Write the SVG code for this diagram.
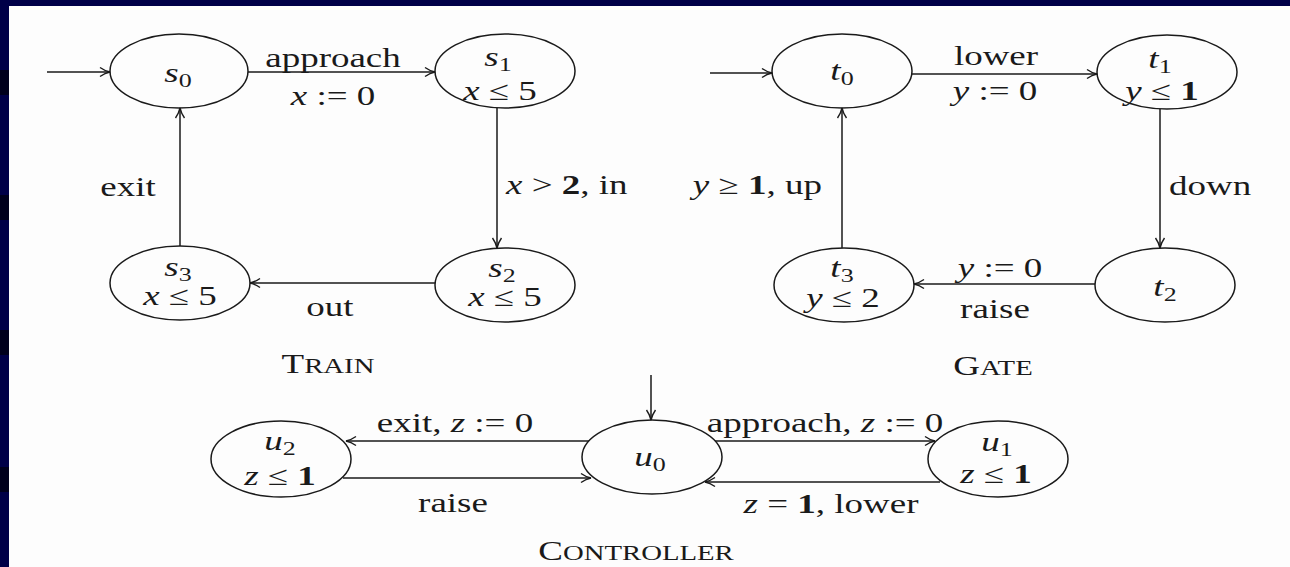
<svg xmlns="http://www.w3.org/2000/svg" width="1290" height="567" viewBox="0 0 1290 567">
<style>
.bg{fill:#fdfdfd}
.navy{fill:#000048}
.dark{fill:#00001c}
.st{fill:none;stroke:#1a1a1a;stroke-width:1.5}
.e{fill:none;stroke:#1a1a1a;stroke-width:1.5}
.t{font-family:"Liberation Serif","Times New Roman",serif;font-size:27px;fill:#1a1a1a;text-anchor:middle}
.s{text-anchor:start}
.en{text-anchor:end}
.i{font-style:italic}
.b{font-weight:bold}
.sub{font-size:19px}
.sc{font-size:21px}
</style>
<defs>
<marker id="ah" markerUnits="userSpaceOnUse" markerWidth="14" markerHeight="12" viewBox="-2 -6 14 12" refX="10" refY="0" orient="auto">
<path d="M0,-4.5 Q5,-1 10,0 Q5,1 0,4.5" fill="none" stroke="#1a1a1a" stroke-width="1.4"/>
</marker>
</defs>
<rect class="bg" x="0" y="0" width="1290" height="567"/>
<rect class="navy" x="0" y="0" width="1290" height="6"/>
<rect class="navy" x="0" y="0" width="9" height="567"/>
<rect class="dark" x="0" y="70" width="9" height="25"/>
<rect class="dark" x="0" y="195" width="9" height="25"/>
<rect class="dark" x="0" y="330" width="9" height="25"/>
<rect class="dark" x="0" y="467" width="9" height="25"/>

<g id="connectors">
<line class="e" x1="47" y1="72" x2="110" y2="72" marker-end="url(#ah)"/>
<line class="e" x1="248" y1="72" x2="435" y2="72" marker-end="url(#ah)"/>
<line class="e" x1="497" y1="108" x2="497" y2="248" marker-end="url(#ah)"/>
<line class="e" x1="435" y1="283" x2="250" y2="283" marker-end="url(#ah)"/>
<line class="e" x1="180" y1="246" x2="180" y2="108" marker-end="url(#ah)"/>
<line class="e" x1="710" y1="73" x2="772" y2="73" marker-end="url(#ah)"/>
<line class="e" x1="912" y1="74" x2="1097" y2="74" marker-end="url(#ah)"/>
<line class="e" x1="1160" y1="109" x2="1160" y2="248" marker-end="url(#ah)"/>
<line class="e" x1="1095" y1="284" x2="914" y2="284" marker-end="url(#ah)"/>
<line class="e" x1="842" y1="248" x2="842" y2="108" marker-end="url(#ah)"/>
<line class="e" x1="651" y1="375" x2="651" y2="420" marker-end="url(#ah)"/>
<line class="e" x1="589" y1="441" x2="346" y2="441" marker-end="url(#ah)"/>
<line class="e" x1="343" y1="478" x2="591" y2="478" marker-end="url(#ah)"/>
<line class="e" x1="715" y1="441" x2="935" y2="441" marker-end="url(#ah)"/>
<line class="e" x1="940" y1="482" x2="705" y2="482" marker-end="url(#ah)"/>

<text class="t" transform="matrix(1.37 0 0 1 333 67)">approach</text>
<text class="t" transform="matrix(1.37 0 0 1 333 105)"><tspan class="i">x</tspan> := 0</text>
<text class="t s" transform="matrix(1.37 0 0 1 506 194)"><tspan class="i">x</tspan> &gt; <tspan class="b">2</tspan>, in</text>
<text class="t" transform="matrix(1.37 0 0 1 330 316)">out</text>
<text class="t" transform="matrix(1.37 0 0 1 128 196)">exit</text>
<text class="t" transform="matrix(1.37 0 0 1 996 65)">lower</text>
<text class="t" transform="matrix(1.37 0 0 1 995 100)"><tspan class="i">y</tspan> := 0</text>
<text class="t s" transform="matrix(1.37 0 0 1 1169 195)">down</text>
<text class="t en" transform="matrix(1.37 0 0 1 822 194)"><tspan class="i">y</tspan> ≥ <tspan class="b">1</tspan>, up</text>
<text class="t" transform="matrix(1.37 0 0 1 1000 277)"><tspan class="i">y</tspan> := 0</text>
<text class="t" transform="matrix(1.37 0 0 1 995 318)">raise</text>
<text class="t" transform="matrix(1.37 0 0 1 455 432)">exit, <tspan class="i">z</tspan> := 0</text>
<text class="t" transform="matrix(1.37 0 0 1 453 512)">raise</text>
<text class="t" transform="matrix(1.37 0 0 1 825 432)">approach, <tspan class="i">z</tspan> := 0</text>
<text class="t" transform="matrix(1.37 0 0 1 831 513)"><tspan class="i">z</tspan> = <tspan class="b">1</tspan>, lower</text>
</g>

<g id="s0">
<ellipse class="st" cx="179" cy="71" rx="69" ry="37"/>
<text class="t" transform="matrix(1.37 0 0 1 178 82)"><tspan class="i">s</tspan><tspan class="sub" dy="5">0</tspan></text>
</g>
<g id="s1">
<ellipse class="st" cx="505" cy="71" rx="70" ry="37"/>
<text class="t" transform="matrix(1.37 0 0 1 498 66)"><tspan class="i">s</tspan><tspan class="sub" dy="5">1</tspan></text>
<text class="t" transform="matrix(1.37 0 0 1 500 100)"><tspan class="i">x</tspan> ≤ 5</text>
</g>
<g id="s2">
<ellipse class="st" cx="505" cy="285" rx="70" ry="37"/>
<text class="t" transform="matrix(1.37 0 0 1 502 277)"><tspan class="i">s</tspan><tspan class="sub" dy="5">2</tspan></text>
<text class="t" transform="matrix(1.37 0 0 1 505 306)"><tspan class="i">x</tspan> ≤ 5</text>
</g>
<g id="s3">
<ellipse class="st" cx="180" cy="283" rx="70" ry="37"/>
<text class="t" transform="matrix(1.37 0 0 1 178 276)"><tspan class="i">s</tspan><tspan class="sub" dy="5">3</tspan></text>
<text class="t" transform="matrix(1.37 0 0 1 180 305)"><tspan class="i">x</tspan> ≤ 5</text>
</g>
<g id="train-title">
<text class="t" transform="matrix(1.37 0 0 1 328 373)">T<tspan class="sc">RAIN</tspan></text>
</g>

<g id="t0">
<ellipse class="st" cx="842" cy="71" rx="70" ry="37"/>
<text class="t" transform="matrix(1.37 0 0 1 842 80)"><tspan class="i">t</tspan><tspan class="sub" dy="5">0</tspan></text>
</g>
<g id="t1">
<ellipse class="st" cx="1167" cy="72" rx="70" ry="37"/>
<text class="t" transform="matrix(1.37 0 0 1 1160 68)"><tspan class="i">t</tspan><tspan class="sub" dy="5">1</tspan></text>
<text class="t" transform="matrix(1.37 0 0 1 1162 100)"><tspan class="i">y</tspan> ≤ <tspan class="b">1</tspan></text>
</g>
<g id="t2">
<ellipse class="st" cx="1165" cy="285" rx="70" ry="37"/>
<text class="t" transform="matrix(1.37 0 0 1 1165 296)"><tspan class="i">t</tspan><tspan class="sub" dy="5">2</tspan></text>
</g>
<g id="t3">
<ellipse class="st" cx="844" cy="285" rx="70" ry="37"/>
<text class="t" transform="matrix(1.37 0 0 1 842 277)"><tspan class="i">t</tspan><tspan class="sub" dy="5">3</tspan></text>
<text class="t" transform="matrix(1.37 0 0 1 843 307)"><tspan class="i">y</tspan> ≤ 2</text>
</g>
<g id="gate-title">
<text class="t" transform="matrix(1.37 0 0 1 993 375)">G<tspan class="sc">ATE</tspan></text>
</g>

<g id="u0">
<ellipse class="st" cx="652" cy="457" rx="70" ry="37"/>
<text class="t" transform="matrix(1.37 0 0 1 650 466)"><tspan class="i">u</tspan><tspan class="sub" dy="5">0</tspan></text>
</g>
<g id="u1">
<ellipse class="st" cx="998" cy="459" rx="70" ry="38"/>
<text class="t" transform="matrix(1.37 0 0 1 997 451)"><tspan class="i">u</tspan><tspan class="sub" dy="5">1</tspan></text>
<text class="t" transform="matrix(1.37 0 0 1 996 483)"><tspan class="i">z</tspan> ≤ <tspan class="b">1</tspan></text>
</g>
<g id="u2">
<ellipse class="st" cx="281" cy="459" rx="70" ry="38"/>
<text class="t" transform="matrix(1.37 0 0 1 280 450)"><tspan class="i">u</tspan><tspan class="sub" dy="5">2</tspan></text>
<text class="t" transform="matrix(1.37 0 0 1 280 485)"><tspan class="i">z</tspan> ≤ <tspan class="b">1</tspan></text>
</g>
<g id="controller-title">
<text class="t" transform="matrix(1.37 0 0 1 636 560)">C<tspan class="sc">ONTROLLER</tspan></text>
</g>
</svg>
